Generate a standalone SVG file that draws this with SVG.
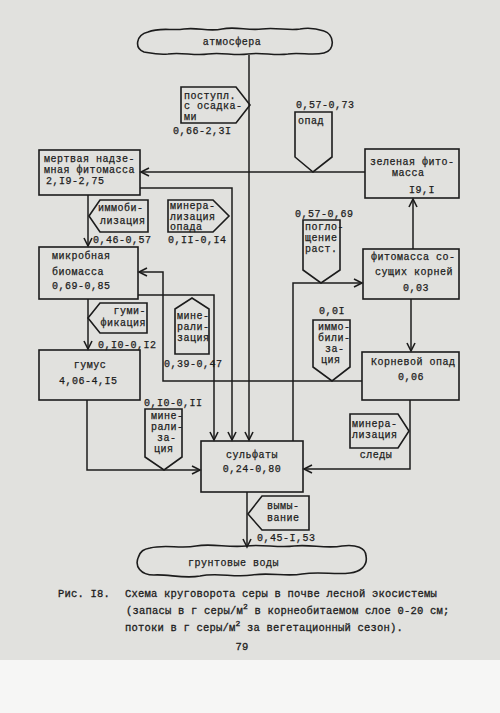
<svg xmlns="http://www.w3.org/2000/svg" width="500" height="713" viewBox="0 0 500 713">
<defs>
<marker id="arr" markerUnits="userSpaceOnUse" markerWidth="14" markerHeight="14" refX="0" refY="0" viewBox="-10 -7 12 14" orient="auto" overflow="visible">
<path d="M-8,-4 L0,0 L-8,4" fill="none" stroke="#1c1c1c" stroke-width="1.6"/>
</marker>
<style>
.t{font-family:"Liberation Mono","DejaVu Sans Mono",monospace;font-size:10px;letter-spacing:0.5px;fill:#1c1c1c;stroke:#1c1c1c;stroke-width:0.25px}
.c{font-family:"Liberation Mono","DejaVu Sans Mono",monospace;font-size:10.5px;letter-spacing:0.2px;fill:#1c1c1c;stroke:#1c1c1c;stroke-width:0.3px}
.m{text-anchor:middle}
.e{text-anchor:end}
.b{fill:none;stroke:#1c1c1c;stroke-width:1.6}
.l{fill:none;stroke:#1c1c1c;stroke-width:1.5}
.a{marker-end:url(#arr)}
</style>
</defs>
<rect x="0" y="0" width="500" height="713" fill="#f6f6f5"/>
<rect x="0" y="0" width="500" height="660" fill="#e1e1de"/>

<g id="connectors">
<path class="l a" d="M249,55 V440"/>
<path class="l a" d="M365,172 H141"/>
<path class="l a" d="M140,188 H232 V440"/>
<path class="l a" d="M88,195 V246"/>
<path class="l a" d="M88,299 V349"/>
<path class="l a" d="M138,295 H214 V440"/>
<path class="l a" d="M362,381 H163 V272 H139"/>
<path class="l a" d="M293,441 V283 H362"/>
<path class="l a" d="M413,249 V199"/>
<path class="l a" d="M411,299 V351"/>
<path class="l a" d="M410,400 V469 H304"/>
<path class="l a" d="M87,400 V470 H200"/>
<path class="l a" d="M247,492 V547"/>
</g>

<g id="atmosphere">
<path class="b" d="M148,32 C160,27 172,31 184,29 C198,27 208,32 222,29 C236,26 248,31 262,29 C276,27 288,31 300,29 C310,27 318,29 324,31 C334,34 336,50 324,53 C312,56 300,52 288,54 C274,56 262,52 248,54 C234,56 222,52 208,54 C194,56 182,52 168,54 C158,55 150,53 144,52 C134,48 136,35 148,32 Z"/>
<text class="t m" x="232" y="45">атмосфера</text>
</g>

<g id="groundwater">
<path class="b" d="M150,548 C165,544 180,549 196,546 C212,543 228,548 246,546 C262,544 278,548 294,546 C310,544 326,549 342,546 C356,544 366,548 366,556 C368,566 360,572 350,573 C334,575 320,571 302,574 C286,577 270,572 252,575 C234,578 218,572 200,576 C184,579 168,574 154,575 C140,575 135,566 138,558 C140,551 144,549 150,548 Z"/>
<text class="t" x="188" y="566">грунтовые  воды</text>
</g>

<g id="dead-biomass">
<rect class="b" x="39" y="150" width="101" height="45"/>
<text class="t" x="44" y="162">мертвая надзе-</text>
<text class="t" x="44" y="173">мная фитомасса</text>
<text class="t" x="46" y="184">2,I9-2,75</text>
</g>

<g id="green-biomass">
<rect class="b" x="365" y="149" width="94" height="49"/>
<text class="t" x="370" y="165">зеленая фито-</text>
<text class="t" x="392" y="176">масса</text>
<text class="t" x="409" y="193">I9,I</text>
</g>

<g id="microbial">
<rect class="b" x="39" y="247" width="99" height="52"/>
<text class="t" x="52" y="259">микробная</text>
<text class="t" x="52" y="275">биомасса</text>
<text class="t" x="52" y="289">0,69-0,85</text>
</g>

<g id="humus">
<rect class="b" x="39" y="350" width="101" height="50"/>
<text class="t m" x="90" y="368">гумус</text>
<text class="t" x="59" y="384">4,06-4,I5</text>
</g>

<g id="roots">
<rect class="b" x="363" y="249" width="96" height="50"/>
<text class="t" x="371" y="260">фитомасса со-</text>
<text class="t" x="375" y="275">сущих корней</text>
<text class="t" x="403" y="291">0,03</text>
</g>

<g id="root-litter">
<rect class="b" x="362" y="352" width="97" height="48"/>
<text class="t" x="371" y="365">Корневой опад</text>
<text class="t" x="398" y="380">0,06</text>
</g>

<g id="sulfates">
<rect class="b" x="201" y="441" width="102" height="51"/>
<text class="t m" x="252" y="458">сульфаты</text>
<text class="t m" x="252" y="472">0,24-0,80</text>
</g>

<g id="flow-precip">
<path class="b" d="M181,87 L236,87 L250,105 L236,123 L181,123 Z"/>
<text class="t" x="184" y="99">поступл.</text>
<text class="t" x="184" y="109">с осадка-</text>
<text class="t" x="184" y="120">ми</text>
<text class="t" x="173" y="134">0,66-2,3I</text>
</g>

<g id="flow-litterfall">
<path class="b" d="M295,112 L332,112 L332,157 L313,172 L295,157 Z"/>
<text class="t" x="298" y="124">опад</text>
<text class="t" x="296" y="108">0,57-0,73</text>
</g>

<g id="flow-immob1">
<path class="b" d="M89,216 L100,200 L148,200 L148,232 L100,232 Z"/>
<text class="t" x="98" y="211">иммоби-</text>
<text class="t" x="100" y="224">лизация</text>
<text class="t" x="93" y="243">0,46-0,57</text>
</g>

<g id="flow-min-litter">
<path class="b" d="M168,200 L213,200 L229,216 L213,232 L168,232 Z"/>
<text class="t" x="170" y="209">минера-</text>
<text class="t" x="170" y="219.5">лизация</text>
<text class="t" x="170" y="230">опада</text>
<text class="t" x="168" y="243">0,II-0,I4</text>
</g>

<g id="flow-uptake">
<path class="b" d="M303,220 L340,220 L340,270 L321,283 L303,270 Z"/>
<text class="t" x="305" y="230">погло-</text>
<text class="t" x="305" y="241">щение</text>
<text class="t" x="305" y="252">раст.</text>
<text class="t" x="295" y="217">0,57-0,69</text>
</g>

<g id="flow-humif">
<path class="b" d="M88,318 L100,303 L147,303 L147,333 L100,333 Z"/>
<text class="t e" x="146" y="314">гуми-</text>
<text class="t e" x="146" y="326">фикация</text>
<text class="t" x="98" y="348">0,I0-0,I2</text>
</g>

<g id="flow-min-micro">
<path class="b" d="M175,309 L192,298 L209,309 L209,354 L175,354 Z"/>
<text class="t" x="177" y="319">мине-</text>
<text class="t" x="177" y="330">рали-</text>
<text class="t" x="177" y="341">зация</text>
<text class="t" x="164" y="367">0,39-0,47</text>
</g>

<g id="flow-immob2">
<path class="b" d="M313,320 L350,320 L350,367 L332,381 L313,367 Z"/>
<text class="t" x="318" y="330">иммо-</text>
<text class="t" x="318" y="341">били-</text>
<text class="t" x="325" y="352">за-</text>
<text class="t" x="321" y="363">ция</text>
<text class="t" x="319" y="314">0,0I</text>
</g>

<g id="flow-min-roots">
<path class="b" d="M350,414 L398,414 L409,431 L398,448 L350,448 Z"/>
<text class="t" x="352" y="427">минера-</text>
<text class="t" x="352" y="438">лизация</text>
<text class="t m" x="376" y="458">следы</text>
</g>

<g id="flow-min-humus">
<path class="b" d="M145,409 L182,409 L182,457 L164,470 L145,457 Z"/>
<text class="t" x="151" y="419">мине-</text>
<text class="t" x="151" y="430">рали-</text>
<text class="t" x="157" y="441">за-</text>
<text class="t" x="154" y="452">ция</text>
<text class="t" x="144" y="406">0,I0-0,II</text>
</g>

<g id="flow-leaching">
<path class="b" d="M248,514 L262,496 L309,496 L309,530 L262,530 Z"/>
<text class="t" x="267" y="509">вымы-</text>
<text class="t" x="267" y="521">вание</text>
<text class="t" x="257" y="541">0,45-I,53</text>
</g>

<g id="caption">
<text class="c" x="58" y="597">Рис. I8.</text>
<text class="c" x="125" y="597">Схема круговорота серы в почве лесной экосистемы</text>
<text class="c" x="126" y="614">(запасы в г серы/м<tspan font-size="8" dy="-5">2</tspan><tspan dy="5"> в корнеобитаемом слое 0-20 см;</tspan></text>
<text class="c" x="125" y="631">потоки в г серы/м<tspan font-size="8" dy="-5">2</tspan><tspan dy="5"> за вегетационный сезон).</tspan></text>
<text class="c m" x="242" y="650">79</text>
</g>
</svg>
